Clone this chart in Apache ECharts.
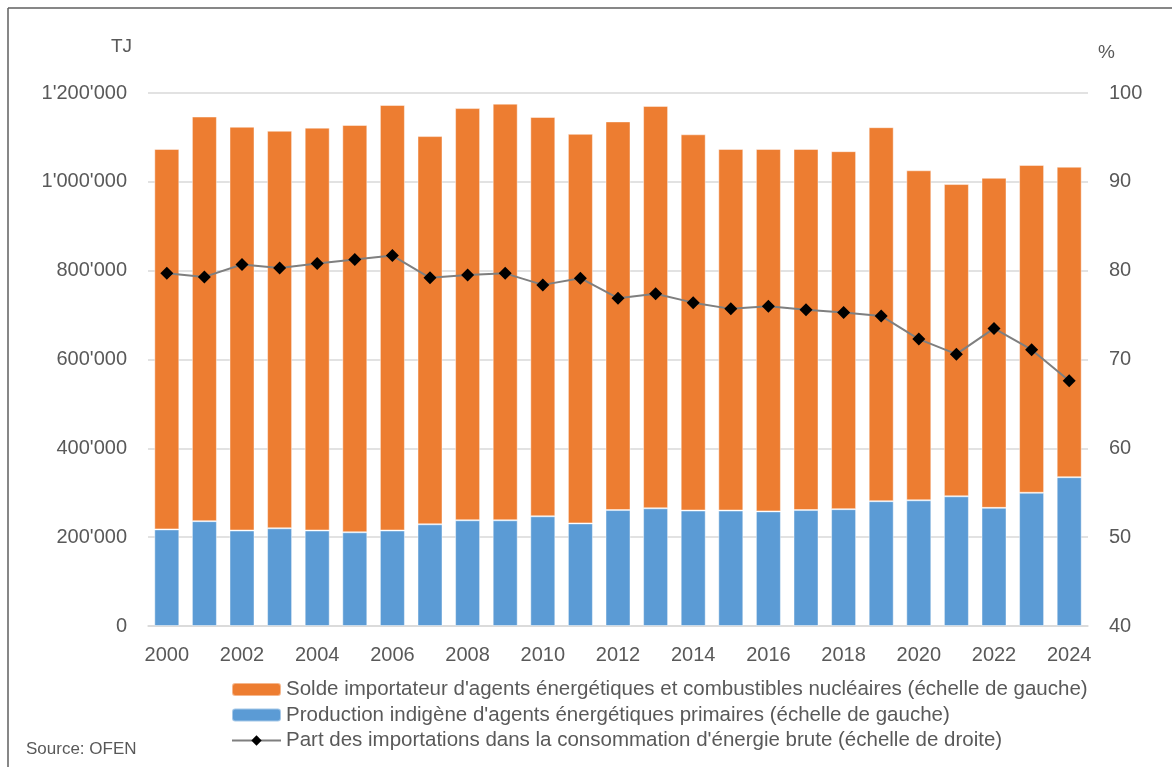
<!DOCTYPE html>
<html>
<head>
<meta charset="utf-8">
<title>Dépendance énergétique</title>
<script src="https://cdn.jsdelivr.net/npm/echarts@6/dist/echarts.min.js"></script>
<style>
  html, body { margin: 0; padding: 0; background: #ffffff; }
  #chart { width: 1172px; height: 767px; }
</style>
</head>
<body>
<div id="chart"></div>
<script>
// Years on the category axis
const years = ['2000','2001','2002','2003','2004','2005','2006','2007','2008','2009',
  '2010','2011','2012','2013','2014','2015','2016','2017','2018','2019',
  '2020','2021','2022','2023','2024'];

// Domestic production of primary energy carriers (TJ, left scale)
const production = [217500, 236000, 215000, 220000, 215000, 211000, 215000, 229000, 238000, 238000,
  247000, 231000, 261000, 265000, 260000, 260000, 258000, 261000, 263000, 281000,
  283000, 292000, 266000, 300000, 335000];

// Net imports of energy carriers and nuclear fuels (TJ, left scale)
const netImports = [856500, 911000, 909000, 895000, 907000, 917000, 958000, 874000, 928000, 938000,
  899000, 877000, 875000, 906000, 847000, 814000, 816000, 813000, 806000, 842000,
  743000, 703000, 743000, 738000, 699000];

// Share of imports in gross energy consumption (%, right scale)
const importShare = [79.7, 79.3, 80.7, 80.3, 80.8, 81.25, 81.7, 79.2, 79.5, 79.7,
  78.4, 79.15, 76.9, 77.4, 76.4, 75.7, 76.0, 75.6, 75.3, 74.9,
  72.3, 70.6, 73.5, 71.1, 67.6];

// Series names shown in the legend
const seriesNames = [
  "Solde importateur d'agents énergétiques et combustibles nucléaires (échelle de gauche)",
  "Production indigène d'agents énergétiques primaires (échelle de gauche)",
  "Part des importations dans la consommation d'énergie brute (échelle de droite)"
];

const textColor = '#595959';
const font = '"Liberation Sans", Arial, sans-serif';

// Swiss thousands separator: 1'200'000
function swissNumber(v) {
  return String(Math.round(v)).replace(/\B(?=(\d{3})+(?!\d))/g, "'");
}

const chart = echarts.init(document.getElementById('chart'), null, { renderer: 'canvas' });

chart.setOption({
  animation: false,
  backgroundColor: '#ffffff',
  textStyle: { fontFamily: font, color: textColor },
  grid: { left: 148, right: 84, top: 93, bottom: 141, containLabel: false },
  legend: {
    orient: 'vertical',
    left: 231,
    top: 679,
    padding: 0,
    itemWidth: 49,
    itemHeight: 13,
    itemGap: 4.5,
    selectedMode: false,
    data: seriesNames,
    textStyle: { fontFamily: font, fontSize: 20.5, color: textColor, lineHeight: 20 }
  },
  xAxis: {
    type: 'category',
    data: years,
    axisLine: { show: true, lineStyle: { color: '#d9d9d9', width: 1.5 } },
    axisTick: { show: false },
    axisLabel: { interval: 1, fontSize: 20, color: textColor, margin: 19, fontFamily: font }
  },
  yAxis: [
    {
      type: 'value',
      min: 0,
      max: 1200000,
      interval: 200000,
      position: 'left',
      axisLine: { show: false },
      axisTick: { show: false },
      splitLine: { lineStyle: { color: '#d9d9d9', width: 1.5 } },
      axisLabel: { fontSize: 20, color: textColor, margin: 21, fontFamily: font, formatter: swissNumber }
    },
    {
      type: 'value',
      min: 40,
      max: 100,
      interval: 10,
      position: 'right',
      axisLine: { show: false },
      axisTick: { show: false },
      splitLine: { show: false },
      axisLabel: { fontSize: 20, color: textColor, margin: 21, fontFamily: font }
    }
  ],
  series: [
    {
      name: seriesNames[1],
      type: 'bar',
      stack: 'total',
      yAxisIndex: 0,
      barWidth: 25,
      data: production,
      itemStyle: { color: '#5B9BD5', borderColor: 'rgba(255,255,255,0.45)', borderWidth: 1 },
      z: 2
    },
    {
      name: seriesNames[0],
      type: 'bar',
      stack: 'total',
      yAxisIndex: 0,
      barWidth: 25,
      data: netImports,
      itemStyle: { color: '#ED7D31', borderColor: 'rgba(255,255,255,0.45)', borderWidth: 1 },
      z: 2
    },
    {
      name: seriesNames[2],
      type: 'line',
      yAxisIndex: 1,
      data: importShare,
      symbol: 'diamond',
      symbolSize: 13,
      showSymbol: true,
      lineStyle: { color: '#7F7F7F', width: 2 },
      itemStyle: { color: '#000000' },
      z: 5
    }
  ],
  graphic: [
    // chart frame (left and top edges)
    { type: 'line', shape: { x1: 8, y1: 8, x2: 8, y2: 767 }, style: { stroke: '#5f5f5f', lineWidth: 1.5 } },
    { type: 'line', shape: { x1: 8, y1: 8, x2: 1172, y2: 8 }, style: { stroke: '#5f5f5f', lineWidth: 1.5 } },
    // axis units
    { type: 'text', left: 111, top: 37, style: { text: 'TJ', font: '19px ' + font, fill: textColor } },
    { type: 'text', left: 1098, top: 43, style: { text: '%', font: '19px ' + font, fill: textColor } },
    // source note
    { type: 'text', left: 26, top: 741, style: { text: 'Source: OFEN', font: '17px ' + font, fill: textColor } }
  ]
});
</script>
</body>
</html>
